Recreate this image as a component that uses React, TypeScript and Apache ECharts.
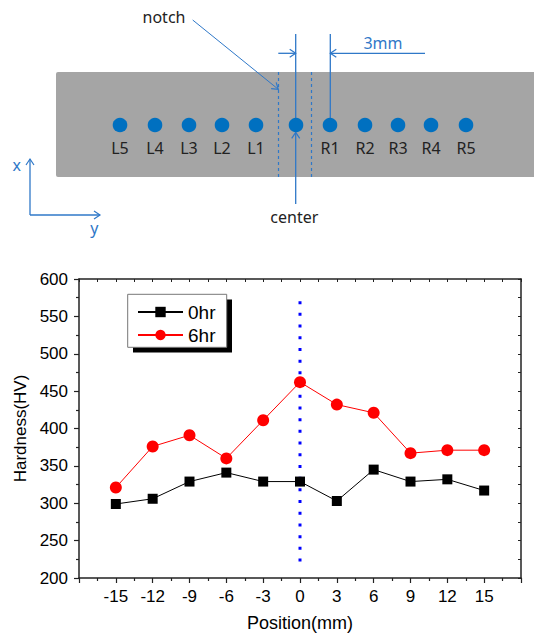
import React, { useEffect, useRef } from "react";
import * as echarts from "echarts";

const positions = [-15, -12, -9, -6, -3, 0, 3, 6, 9, 12, 15];
const hardness0hr = [299, 306, 329, 341, 329, 329, 303, 345, 329, 332, 317];
const hardness6hr = [321, 376, 391, 360, 411, 462, 432, 421, 367, 371, 371];
const centerLineX = [0, 0];
const centerLineY = [222, 578];
const seriesNames = ["0hr", "6hr"];
const pointLabels = ["L5", "L4", "L3", "L2", "L1", "", "R1", "R2", "R3", "R4", "R5"];
const pointX = [120, 155, 189, 222, 256, 296, 330, 365, 398, 431, 466];

const BLUE = "#0070c0";
const LINEBLUE = "#2f78c8";
const FONT = "Liberation Sans, Arial, sans-serif";
const DFONT = "Noto Sans, DejaVu Sans, sans-serif";

function arrowHead(tx: number, ty: number, fx: number, fy: number, color: string) {
  const dx = tx - fx;
  const dy = ty - fy;
  const len = Math.sqrt(dx * dx + dy * dy);
  const ux = dx / len;
  const uy = dy / len;
  const nx = -uy;
  const ny = ux;
  const L = 6;
  const W = 4;
  return {
    type: "polyline",
    shape: {
      points: [
        [tx - ux * L + nx * W, ty - uy * L + ny * W],
        [tx, ty],
        [tx - ux * L - nx * W, ty - uy * L - ny * W],
      ],
    },
    style: { stroke: color, lineWidth: 1.2, fill: null },
    z: 10,
  };
}

function line(x1: number, y1: number, x2: number, y2: number, color: string, w = 1.3, dash?: number[]) {
  return {
    type: "line",
    shape: { x1, y1, x2, y2 },
    style: { stroke: color, lineWidth: w, lineDash: dash },
    z: 10,
  };
}

function text(str: string, x: number, y: number, color: string, size = 16) {
  return {
    type: "text",
    x,
    y,
    style: {
      text: str,
      fill: color,
      font: `${size}px ${DFONT}`,
      align: "center",
      verticalAlign: "middle",
    },
    z: 11,
  };
}

export default function App() {
  const ref = useRef<HTMLDivElement>(null);
  useEffect(() => {
    if (!ref.current) return;
    const chart = echarts.init(ref.current, undefined, { renderer: "svg" });

    const graphics: any[] = [];
    graphics.push({
      type: "rect",
      shape: { x: 56, y: 72, width: 490, height: 105, r: 2 },
      style: { fill: "#a5a5a5" },
      z: 5,
    });
    graphics.push(line(278.5, 72, 278.5, 177, LINEBLUE, 1.2, [3, 3]));
    graphics.push(line(311.5, 72, 311.5, 177, LINEBLUE, 1.2, [3, 3]));
    pointX.forEach((px, i) => {
      graphics.push({
        type: "circle",
        shape: { cx: px, cy: 125, r: 7.3 },
        style: { fill: BLUE },
        z: 12,
      });
      if (pointLabels[i]) graphics.push(text(pointLabels[i], px, 148, "#222"));
    });
    graphics.push(line(295.7, 34, 295.7, 125, LINEBLUE));
    graphics.push(line(330.3, 34, 330.3, 125, LINEBLUE));
    graphics.push(line(278.3, 53.3, 295.7, 53.3, LINEBLUE));
    graphics.push(arrowHead(295.7, 53.3, 278.3, 53.3, LINEBLUE));
    graphics.push(line(330.3, 53.3, 425, 53.3, LINEBLUE));
    graphics.push(arrowHead(330.3, 53.3, 425, 53.3, LINEBLUE));
    graphics.push(text("3mm", 383, 42.5, LINEBLUE));
    graphics.push(text("notch", 164, 17, "#222"));
    graphics.push(line(192.7, 20, 278.3, 89.3, LINEBLUE, 1));
    graphics.push(arrowHead(278.3, 89.3, 192.7, 20, LINEBLUE));
    graphics.push(line(295.7, 204, 295.7, 132.3, LINEBLUE));
    graphics.push(arrowHead(295.7, 132.3, 295.7, 204, LINEBLUE));
    graphics.push(text("center", 294.3, 216.5, "#222"));
    graphics.push(line(30, 215, 30, 159, LINEBLUE));
    graphics.push(arrowHead(30, 159, 30, 215, LINEBLUE));
    graphics.push(line(30, 215, 100, 215, LINEBLUE));
    graphics.push(arrowHead(100, 215, 30, 215, LINEBLUE));
    graphics.push(text("x", 16.7, 165, LINEBLUE));
    graphics.push(text("y", 94.3, 228, LINEBLUE));
    graphics.push({
      type: "rect",
      shape: { x: 133, y: 299.5, width: 99, height: 53 },
      style: { fill: "#000" },
      z: 1,
    });
    graphics.push({
      type: "rect",
      shape: { x: 127.7, y: 294.3, width: 99, height: 53 },
      style: { fill: "#fff", stroke: "#777", lineWidth: 1 },
      z: 2,
    });

    const axisLine = { show: true, onZero: false, lineStyle: { color: "#222", width: 1.5 } };

    chart.setOption({
      animation: false,
      backgroundColor: "#fff",
      grid: { left: 79, top: 279, width: 442, height: 301, containLabel: false },
      legend: {
        data: seriesNames,
        orient: "vertical",
        left: 137,
        top: 302.5,
        padding: 0,
        itemWidth: 45,
        itemHeight: 13,
        itemGap: 4,
        z: 6,
        textStyle: { fontFamily: FONT, fontSize: 19, color: "#000" },
      },
      xAxis: [
        {
          type: "value",
          min: -18,
          max: 18,
          interval: 3,
          position: "bottom",
          axisLine,
          axisTick: { show: true, length: 5, lineStyle: { color: "#222", width: 1.2 } },
          minorTick: { show: true, splitNumber: 2, length: 3, lineStyle: { color: "#222", width: 1.2 } },
          splitLine: { show: false },
          axisLabel: {
            margin: 10,
            fontFamily: FONT,
            fontSize: 17,
            color: "#000",
            formatter: (v: number) => (Math.abs(v) === 18 ? "" : String(v)),
          },
          name: "Position(mm)",
          nameLocation: "middle",
          nameGap: 36,
          nameTextStyle: { fontFamily: FONT, fontSize: 18, color: "#000" },
        },
        {
          type: "value",
          min: -18,
          max: 18,
          interval: 3,
          position: "top",
          axisLine,
          axisTick: { show: true, inside: true, length: 3, lineStyle: { color: "#222" } },
          minorTick: { show: true, splitNumber: 2, length: 3, lineStyle: { color: "#222" } },
          splitLine: { show: false },
          axisLabel: { show: false },
        },
      ],
      yAxis: [
        {
          type: "value",
          min: 200,
          max: 600,
          interval: 50,
          position: "left",
          axisLine,
          axisTick: { show: true, length: 5, lineStyle: { color: "#222", width: 1.2 } },
          minorTick: { show: true, splitNumber: 2, length: 3, lineStyle: { color: "#222", width: 1.2 } },
          splitLine: { show: false },
          axisLabel: { margin: 11, fontFamily: FONT, fontSize: 17, color: "#000" },
          name: "Hardness(HV)",
          nameLocation: "middle",
          nameGap: 49,
          nameTextStyle: { fontFamily: FONT, fontSize: 17, color: "#000" },
        },
        {
          type: "value",
          min: 200,
          max: 600,
          interval: 50,
          position: "right",
          axisLine,
          axisTick: { show: true, inside: true, length: 3, lineStyle: { color: "#222" } },
          minorTick: { show: true, splitNumber: 2, length: 3, lineStyle: { color: "#222" } },
          splitLine: { show: false },
          axisLabel: { show: false },
        },
      ],
      series: [
        {
          name: seriesNames[0],
          type: "line",
          xAxisIndex: 0,
          yAxisIndex: 0,
          data: positions.map((p, i) => [p, hardness0hr[i]]),
          symbol: "rect",
          symbolSize: 10,
          itemStyle: { color: "#000" },
          lineStyle: { color: "#000", width: 1 },
          z: 3,
        },
        {
          name: seriesNames[1],
          type: "line",
          xAxisIndex: 0,
          yAxisIndex: 0,
          data: positions.map((p, i) => [p, hardness6hr[i]]),
          symbol: "circle",
          symbolSize: 12,
          itemStyle: { color: "#ff0000" },
          lineStyle: { color: "#ff0000", width: 1 },
          z: 3,
        },
        {
          name: "center",
          type: "line",
          xAxisIndex: 0,
          yAxisIndex: 0,
          data: centerLineX.map((x, i) => [x, centerLineY[i]]),
          symbol: "none",
          silent: true,
          lineStyle: { color: "#0000ff", width: 3, type: [3, 8.7], cap: "butt" },
          z: 2,
        },
      ],
      graphic: graphics,
    });
    return () => chart.dispose();
  }, []);
  return (
    <div
      ref={ref}
      style={{ position: "absolute", left: 0, top: 0, width: 534, height: 633 }}
    />
  );
}
